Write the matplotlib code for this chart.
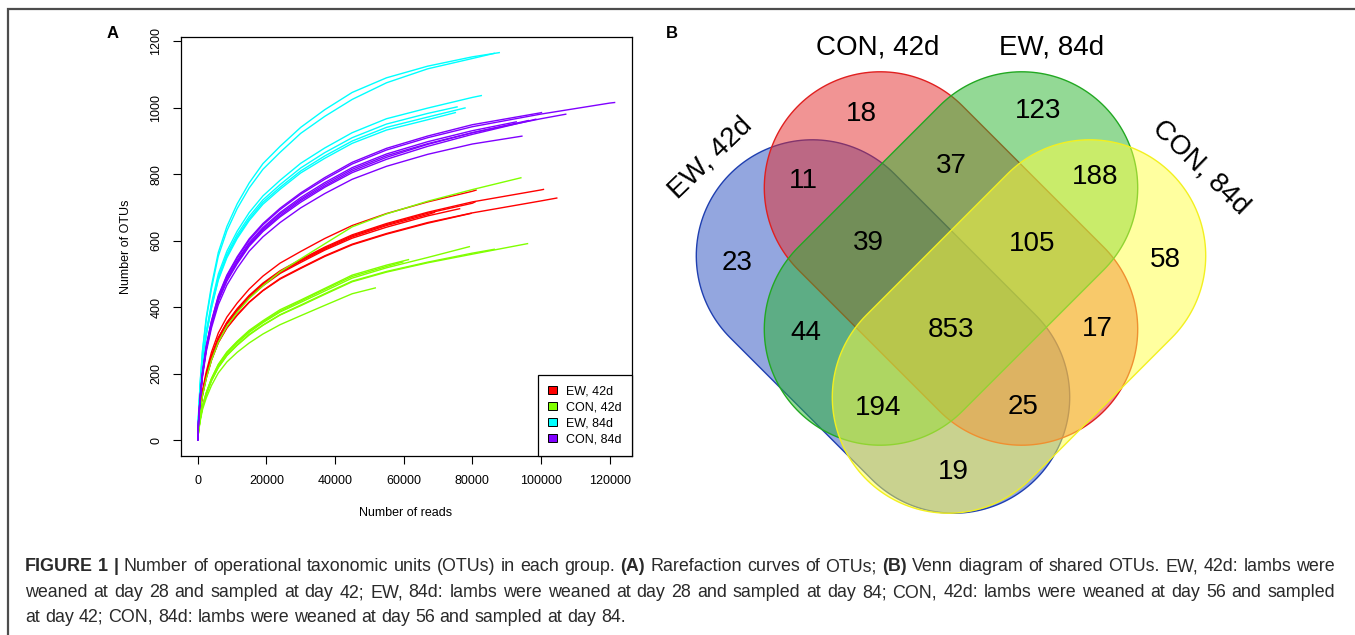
import numpy as np
import matplotlib
matplotlib.use("Agg")
import matplotlib.pyplot as plt
from matplotlib.patches import Patch, Polygon

plt.rcParams['font.family'] = ['Liberation Sans', 'DejaVu Sans']

# ---------------- data: rarefaction curves (Number of reads -> Number of OTUs)
# Each curve is read at the sampling depths of read_grid that lie below its own
# final depth, followed by its final point (end reads).
read_grid = [0, 250, 700, 1400, 2500, 4000, 6000, 8500, 11500, 15000, 19000, 24000,
             30000, 37000, 45000, 55000, 67000, 80000, 100000, 120000]

# EW, 42d (red)
ew42_end_reads = [81280, 100930, 80990, 76500, 69160, 104810, 79830]
ew42_otus = [
    [0, 44, 96, 150, 207, 265, 323, 371, 413, 455, 494, 533, 568, 607, 646, 682, 717, 749, 753],
    [0, 42, 91, 143, 198, 253, 309, 355, 396, 436, 473, 510, 544, 581, 618, 652, 686, 717, 753, 755],
    [0, 42, 91, 143, 197, 252, 308, 354, 394, 434, 470, 507, 541, 578, 615, 649, 683, 713, 718],
    [0, 41, 90, 141, 195, 249, 304, 350, 389, 429, 465, 502, 535, 572, 608, 641, 675, 697],
    [0, 42, 91, 142, 196, 251, 306, 352, 392, 431, 468, 505, 539, 575, 612, 646, 679, 686],
    [0, 40, 87, 137, 189, 242, 295, 339, 378, 416, 451, 487, 519, 555, 590, 622, 655, 684, 720, 729],
    [0, 40, 87, 136, 188, 241, 294, 338, 376, 415, 450, 485, 517, 553, 588, 620, 653, 683],
]
# CON, 42d (green)
con42_end_reads = [94350, 61600, 59960, 79330, 96290, 86600, 51930]
con42_otus = [
    [0, 39, 83, 135, 186, 241, 295, 343, 385, 427, 465, 507, 546, 591, 642, 681, 719, 754, 790],
    [0, 30, 65, 104, 144, 186, 229, 266, 298, 331, 360, 393, 422, 457, 497, 527, 544],
    [0, 30, 64, 104, 143, 185, 227, 264, 296, 328, 357, 389, 419, 454, 493, 523, 537],
    [0, 29, 63, 102, 142, 183, 224, 261, 293, 325, 354, 386, 415, 449, 488, 519, 550, 583],
    [0, 29, 62, 100, 138, 179, 219, 255, 286, 317, 346, 377, 405, 439, 477, 506, 534, 560, 592],
    [0, 29, 62, 101, 139, 180, 220, 256, 287, 319, 347, 378, 407, 441, 479, 508, 536, 563, 575],
    [0, 26, 57, 93, 128, 165, 203, 236, 265, 293, 320, 348, 375, 406, 441, 459],
]
# EW, 84d (cyan)
ew84_end_reads = [88050, 86600, 82820, 75760, 78080, 75260]
ew84_otus = [
    [0, 82, 173, 272, 371, 465, 565, 643, 711, 774, 832, 884, 941, 994, 1046, 1090, 1125, 1153, 1166],
    [0, 80, 169, 267, 364, 456, 554, 630, 697, 759, 815, 866, 923, 974, 1025, 1075, 1117, 1148, 1164],
    [0, 72, 153, 241, 328, 412, 500, 569, 629, 685, 735, 782, 833, 879, 925, 967, 999, 1031, 1037],
    [0, 71, 150, 237, 323, 405, 491, 560, 619, 673, 723, 769, 819, 865, 910, 951, 983, 1003],
    [0, 70, 149, 234, 320, 401, 486, 554, 612, 666, 716, 761, 810, 855, 900, 941, 972, 1000],
    [0, 70, 147, 232, 317, 397, 482, 549, 607, 661, 710, 755, 804, 848, 893, 933, 964, 986],
]
# CON, 84d (purple)
con84_end_reads = [121660, 107430, 100350, 98700, 96500, 94650, 93000]
con84_otus = [
    [0, 58, 129, 204, 283, 357, 432, 494, 548, 602, 648, 694, 740, 785, 831, 873, 910, 943, 981, 1014, 1016],
    [0, 57, 126, 198, 275, 348, 421, 482, 535, 587, 632, 676, 721, 765, 810, 851, 890, 925, 967, 981],
    [0, 59, 130, 205, 284, 359, 435, 497, 552, 606, 652, 698, 744, 790, 836, 878, 915, 949, 985, 986],
    [0, 56, 125, 197, 274, 346, 419, 479, 531, 584, 628, 672, 716, 761, 805, 845, 884, 920, 966],
    [0, 57, 126, 200, 277, 350, 424, 485, 538, 591, 636, 681, 725, 770, 815, 856, 892, 925, 962],
    [0, 55, 122, 192, 267, 338, 408, 467, 518, 569, 612, 655, 699, 742, 785, 824, 860, 891, 915],
    [0, 57, 127, 201, 279, 353, 426, 488, 541, 595, 640, 685, 730, 775, 820, 861, 898, 931, 958],
]

group_names = ["EW, 42d", "CON, 42d", "EW, 84d", "CON, 84d"]
x_ticks = [0, 20000, 40000, 60000, 80000, 100000, 120000]
y_ticks = [0, 200, 400, 600, 800, 1000, 1200]

# ---------------- data: Venn diagram
venn_sets = ["EW, 42d", "CON, 42d", "EW, 84d", "CON, 84d"]
venn_counts = [18, 123, 11, 37, 188, 23, 39, 105, 58, 44, 853, 17, 194, 25, 19]

caption_lines = [
    [("FIGURE 1 |", "bold"),
     ("Number of operational taxonomic units (OTUs) in each group.", "normal"),
     ("(A)", "bold"), ("Rarefaction curves of OTUs;", "normal"),
     ("(B)", "bold"), ("Venn diagram of shared OTUs. EW, 42d: lambs were", "normal")],
    [("weaned at day 28 and sampled at day 42; EW, 84d: lambs were weaned at day 28 "
      "and sampled at day 84; CON, 42d: lambs were weaned at day 56 and sampled", "normal")],
    [("at day 42; CON, 84d: lambs were weaned at day 56 and sampled at day 84.", "normal")],
]

# ---------------- styles / layout
W, H = 1355, 635
curve_colors = ["#FF0000", "#80FF00", "#00FFFF", "#8000FF"]
venn_fill = ["#294FC1", "#E52B2B", "#29B52D", "#FFFF41"]
venn_edge = ["#1F3FB0", "#E02020", "#22A822", "#F2F020"]
venn_centers = [(883, 326.5), (951, 258.5), (951, 258.5), (1019, 326.5)]
venn_angles = [45, 45, -45, -45]
capsule_r = 116      # radius of the rounded ends (px)
capsule_core = 200   # distance between the two end-circle centres (px)
venn_count_pos = [(861, 114), (1038, 111), (803, 181), (951, 166), (1095, 177),
                  (737, 263), (868, 243), (1032, 244), (1165, 260), (806, 333),
                  (951, 330), (1097, 329), (878, 408), (1023, 407), (953, 472)]
venn_label_pos = [(710, 158, 44), (878, 48, 0), (1052, 48, 0), (1201, 167, -44)]

fig = plt.figure(figsize=(W / 100, H / 100), dpi=100)
fig.patch.set_facecolor("white")

ov = fig.add_axes([0, 0, 1, 1], zorder=0)
ov.set_xlim(0, W)
ov.set_ylim(H, 0)
ov.axis("off")

# border of the figure box
ov.plot([8, 8, W], [H, 9, 9], color="#4d4d4d", lw=1.6, solid_joinstyle="miter",
        solid_capstyle="butt")

# ---------------- panel A
ax = fig.add_axes([181 / W, 1 - 456 / H, 451 / W, 419 / H], zorder=2)
groups = [(ew42_end_reads, ew42_otus), (con42_end_reads, con42_otus),
          (ew84_end_reads, ew84_otus), (con84_end_reads, con84_otus)]
all_end = []
all_max = []
for (ends, curves), col in zip(groups, curve_colors):
    for end, vals in zip(ends, curves):
        xs = [g for g in read_grid if g < end] + [end]
        ax.plot(xs, vals, color=col, lw=1.0, solid_capstyle="butt",
                solid_joinstyle="round")
        all_end.append(end)
        all_max.append(max(vals))

xmax, ymax = max(all_end), max(all_max)
ax.set_xlim(-0.04 * xmax, 1.04 * xmax)
ax.set_ylim(-0.04 * ymax, 1.04 * ymax)
ax.set_xticks(x_ticks)
ax.set_xticklabels([str(v) for v in x_ticks])
ax.set_yticks(y_ticks)
ax.set_yticklabels([str(v) for v in y_ticks])
ax.tick_params(direction="out", length=5.5, width=0.8, labelsize=9, colors="black")
ax.tick_params(axis="x", pad=8)
ax.tick_params(axis="y", pad=8)
for lbl in ax.get_yticklabels():
    lbl.set_rotation(90)
    lbl.set_va("center")
for sp in ax.spines.values():
    sp.set_linewidth(0.9)
    sp.set_color("black")
ax.set_xlabel("Number of reads", fontsize=9)
ax.xaxis.set_label_coords(0.497, -0.136)
ax.xaxis.label.set_va("center")
ax.set_ylabel("Number of OTUs", fontsize=9)
ax.yaxis.set_label_coords(-0.122, 0.499)
ax.yaxis.label.set_va("center")

handles = [Patch(facecolor=c, edgecolor="black", lw=0.7, label=n)
           for c, n in zip(curve_colors, group_names)]
leg = ax.legend(handles=handles, loc="lower right", borderaxespad=0, fancybox=False,
                edgecolor="black", framealpha=1, fontsize=9, handlelength=0.7,
                handleheight=0.7, handletextpad=0.7, labelspacing=0.32, borderpad=0.85)
leg.get_frame().set_linewidth(0.9)

ov.text(113, 34, "A", fontsize=12, fontweight="bold", ha="center", va="center")
ov.text(672, 34, "B", fontsize=12, fontweight="bold", ha="center", va="center")


# ---------------- panel B (Venn, capsule shapes rotated by +/-45 degrees)
def capsule_outline(cx, cy, core, r, ang_deg):
    t1 = np.radians(np.linspace(-90, 90, 90))
    t2 = np.radians(np.linspace(90, 270, 90))
    px = np.concatenate([core / 2 + r * np.cos(t1), -core / 2 + r * np.cos(t2)])
    py = np.concatenate([r * np.sin(t1), r * np.sin(t2)])
    a = np.radians(ang_deg)
    xr = cx + px * np.cos(a) - py * np.sin(a)
    yr = cy + px * np.sin(a) + py * np.cos(a)
    return np.column_stack([xr, yr])


for (cx, cy), ang, fc, ec in zip(venn_centers, venn_angles, venn_fill, venn_edge):
    p = Polygon(capsule_outline(cx, cy, capsule_core, capsule_r, ang), closed=True,
                facecolor=matplotlib.colors.to_rgba(fc, 0.5), edgecolor=ec, lw=1.0)
    ov.add_patch(p)

for n, (x, y) in zip(venn_counts, venn_count_pos):
    ov.text(x, y, str(n), fontsize=20, ha="center", va="center", color="black")

for name, (x, y, rot) in zip(venn_sets, venn_label_pos):
    ov.text(x, y, name, fontsize=20, ha="center", va="center", rotation=rot,
            rotation_mode="anchor", color="black")

# ---------------- caption (lines 1-2 justified between x0 and x1)
cap_fs = 12.9
cap_color = "#2a2a2a"
cap_x0, cap_x1 = 25, 1335
cap_base = [571, 597, 622]
cap_justify = [True, True, False]
renderer = fig.canvas.get_renderer()


def text_width(s, weight):
    t = ov.text(0, 0, s, fontsize=cap_fs, fontweight=weight)
    w = t.get_window_extent(renderer).width
    t.remove()
    return w


space_w = text_width("a a", "normal") - text_width("aa", "normal")


def natural_layout(segs):
    items = []
    x = 0.0
    for k, (s, w) in enumerate(segs):
        if k > 0:
            x += space_w
        words = s.split(" ")
        for i, wd in enumerate(words):
            pre = " ".join(words[:i + 1])
            start = text_width(pre, w) - text_width(wd, w)
            items.append((wd, w, x + start))
        x += text_width(s, w)
    return items, x


for segs, yb, just in zip(caption_lines, cap_base, cap_justify):
    items, total = natural_layout(segs)
    extra = 0.0
    if just and len(items) > 1:
        extra = (cap_x1 - cap_x0 - total) / (len(items) - 1)
    for i, (wd, w, off) in enumerate(items):
        ov.text(cap_x0 + off + i * extra, yb, wd, fontsize=cap_fs, fontweight=w,
                ha="left", va="baseline", color=cap_color)

fig.savefig("out.png", dpi=100)
